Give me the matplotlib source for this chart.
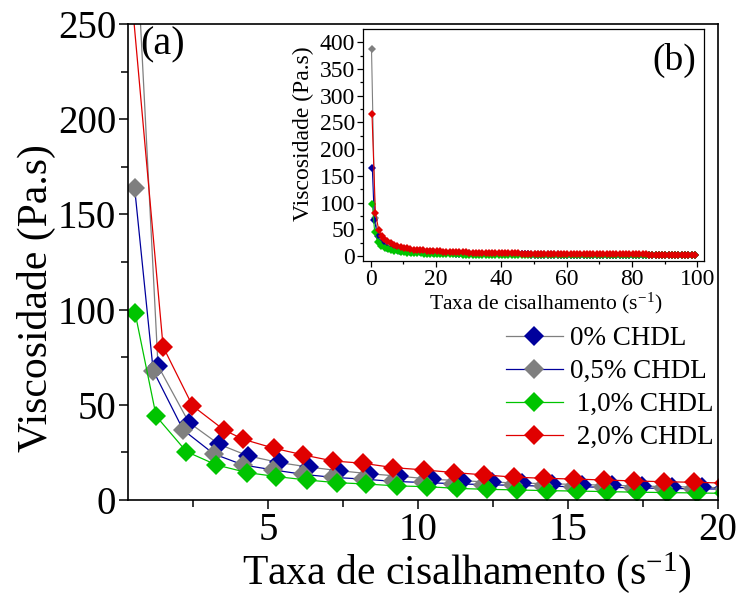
import matplotlib
matplotlib.use("Agg")
import matplotlib.pyplot as plt
from matplotlib.ticker import MultipleLocator
from matplotlib.lines import Line2D

plt.rcParams['font.family'] = ['Liberation Serif', 'DejaVu Serif']
plt.rcParams['mathtext.fontset'] = 'custom'
plt.rcParams['mathtext.rm'] = 'Liberation Serif'

# ---- data: shear rate (s^-1) and viscosity (Pa.s) ----
labels = ['0% CHDL', '0,5% CHDL', ' 1,0% CHDL', ' 2,0% CHDL']

rate_0 = [0.30, 1.33, 2.36, 3.36, 4.33, 5.35, 6.36, 7.36, 8.37, 9.38,
          10.45, 11.45, 12.45, 13.45, 14.45, 15.45, 16.45, 17.45, 18.45, 19.45]
visc_0 = [388, 70.5, 40.7, 29.3, 23.2, 19.7, 17.3, 15.4, 13.8, 12.5,
          10.9, 10.1, 9.4, 8.9, 8.5, 8.1, 7.7, 7.3, 7.0, 6.7]

rate_05 = [0.55, 1.17, 2.17, 3.19, 4.17, 5.17, 6.16, 7.16, 8.16, 9.16,
           10.15, 11.15, 12.15, 13.15, 14.15, 15.15, 16.15, 17.15, 18.15, 19.15]
visc_05 = [164, 68, 36.8, 24.2, 18.4, 15.8, 13.5, 11.9, 11.0, 9.8,
           9.2, 8.6, 8.1, 7.7, 7.3, 7.0, 6.7, 6.4, 6.1, 5.9]

rate_10 = [0.57, 1.27, 2.28, 3.28, 4.30, 5.28, 6.30, 7.29, 8.27, 9.29,
           10.30, 11.30, 12.30, 13.30, 14.30, 15.30, 16.30, 17.30, 18.30, 19.30]
visc_10 = [98, 44, 25.4, 18.4, 14.4, 12.3, 10.5, 9.1, 8.4, 7.4,
           7.0, 6.1, 5.6, 5.3, 4.9, 4.7, 4.4, 4.1, 3.9, 3.7]

rate_20 = [0.45, 1.50, 2.48, 3.53, 4.17, 5.19, 6.17, 7.16, 8.16, 9.18,
           10.20, 11.20, 12.20, 13.20, 14.20, 15.20, 16.20, 17.20, 18.20, 19.20]
visc_20 = [265, 80.5, 49.5, 36.8, 31.9, 27.2, 23.7, 20.5, 19.3, 17.0,
           15.8, 14.4, 13.2, 12.0, 11.4, 11.0, 10.5, 10.0, 9.6, 9.3]

# remainder of the sweep, up to 100 s^-1
rate_tail = [20.2, 21.2, 22.2, 23.2, 24.2, 25.2, 26.2, 27.2, 28.2, 29.2,
             30.2, 31.2, 32.2, 33.2, 34.2, 35.2, 36.2, 37.2, 38.2, 39.2,
             40.2, 41.2, 42.2, 43.2, 44.2, 45.2, 46.2, 47.2, 48.2, 49.2,
             50.2, 51.2, 52.2, 53.2, 54.2, 55.2, 56.2, 57.2, 58.2, 59.2,
             60.2, 61.2, 62.2, 63.2, 64.2, 65.2, 66.2, 67.2, 68.2, 69.2,
             70.2, 71.2, 72.2, 73.2, 74.2, 75.2, 76.2, 77.2, 78.2, 79.2,
             80.2, 81.2, 82.2, 83.2, 84.2, 85.2, 86.2, 87.2, 88.2, 89.2,
             90.2, 91.2, 92.2, 93.2, 94.2, 95.2, 96.2, 97.2, 98.2, 99.2]
tail_0 = [6.4, 6.2, 6.0, 5.8, 5.6, 5.4, 5.2, 5.1, 4.9, 4.8,
          4.7, 4.5, 4.4, 4.3, 4.2, 4.1, 4.0, 3.9, 3.8, 3.8,
          3.7, 3.6, 3.5, 3.5, 3.4, 3.3, 3.3, 3.2, 3.2, 3.1,
          3.1, 3.0, 3.0, 2.9, 2.9, 2.8, 2.8, 2.8, 2.7, 2.7,
          2.6, 2.6, 2.6, 2.5, 2.5, 2.5, 2.4, 2.4, 2.4, 2.3,
          2.3, 2.3, 2.3, 2.2, 2.2, 2.2, 2.2, 2.1, 2.1, 2.1,
          2.1, 2.0, 2.0, 2.0, 2.0, 1.9, 1.9, 1.9, 1.9, 1.9,
          1.8, 1.8, 1.8, 1.8, 1.8, 1.7, 1.7, 1.7, 1.7, 1.7]
tail_05 = [5.7, 5.5, 5.3, 5.1, 4.9, 4.8, 4.6, 4.5, 4.3, 4.2,
           4.1, 4.0, 3.9, 3.8, 3.7, 3.6, 3.5, 3.4, 3.4, 3.3,
           3.2, 3.2, 3.1, 3.0, 3.0, 2.9, 2.9, 2.8, 2.8, 2.7,
           2.7, 2.6, 2.6, 2.5, 2.5, 2.5, 2.4, 2.4, 2.3, 2.3,
           2.3, 2.2, 2.2, 2.2, 2.1, 2.1, 2.1, 2.0, 2.0, 2.0,
           2.0, 1.9, 1.9, 1.9, 1.9, 1.8, 1.8, 1.8, 1.8, 1.7,
           1.7, 1.7, 1.7, 1.7, 1.6, 1.6, 1.6, 1.6, 1.6, 1.5,
           1.5, 1.5, 1.5, 1.5, 1.5, 1.4, 1.4, 1.4, 1.4, 1.4]
tail_10 = [3.5, 3.4, 3.3, 3.2, 3.1, 3.0, 2.9, 2.8, 2.7, 2.6,
           2.6, 2.5, 2.4, 2.4, 2.3, 2.3, 2.2, 2.2, 2.1, 2.1,
           2.0, 2.0, 2.0, 1.9, 1.9, 1.8, 1.8, 1.8, 1.7, 1.7,
           1.7, 1.7, 1.6, 1.6, 1.6, 1.6, 1.5, 1.5, 1.5, 1.5,
           1.4, 1.4, 1.4, 1.4, 1.4, 1.3, 1.3, 1.3, 1.3, 1.3,
           1.3, 1.2, 1.2, 1.2, 1.2, 1.2, 1.2, 1.2, 1.1, 1.1,
           1.1, 1.1, 1.1, 1.1, 1.1, 1.0, 1.0, 1.0, 1.0, 1.0,
           1.0, 1.0, 1.0, 1.0, 0.9, 0.9, 0.9, 0.9, 0.9, 0.9]
tail_20 = [8.9, 8.6, 8.3, 8.0, 7.7, 7.5, 7.3, 7.0, 6.8, 6.6,
           6.5, 6.3, 6.2, 6.0, 5.9, 5.7, 5.6, 5.5, 5.4, 5.3,
           5.2, 5.1, 5.0, 4.9, 4.8, 4.7, 4.6, 4.6, 4.5, 4.4,
           4.3, 4.3, 4.2, 4.1, 4.1, 4.0, 3.9, 3.9, 3.8, 3.8,
           3.7, 3.7, 3.6, 3.6, 3.5, 3.5, 3.4, 3.4, 3.3, 3.3,
           3.3, 3.2, 3.2, 3.1, 3.1, 3.1, 3.0, 3.0, 3.0, 2.9,
           2.9, 2.9, 2.8, 2.8, 2.8, 2.7, 2.7, 2.7, 2.7, 2.6,
           2.6, 2.6, 2.5, 2.5, 2.5, 2.5, 2.4, 2.4, 2.4, 2.4]

BLUE = '#00009c'
GRAY = '#7f7f7f'
GREEN = '#00c400'
RED = '#e00000'

rates = [rate_0 + rate_tail, rate_05 + rate_tail, rate_10 + rate_tail, rate_20 + rate_tail]
viscs = [visc_0 + tail_0, visc_05 + tail_05, visc_10 + tail_10, visc_20 + tail_20]
# (line colour, marker colour) for the main panel
main_styles = [(GRAY, BLUE), (BLUE, GRAY), (GREEN, GREEN), (RED, RED)]
# (line colour, marker colour) for the inset
inset_styles = [(GRAY, GRAY), (BLUE, BLUE), (GREEN, GREEN), (RED, RED)]

W, H = 738, 596
fig = plt.figure(figsize=(W / 100, H / 100), dpi=100)

def fx(px):
    return px / W

def fy(py):
    return 1 - py / H

# ---- main panel (a) ----
ax = fig.add_axes([fx(128), fy(500), fx(718 - 128), (500 - 24) / H])
handles = []
for x, y, (lc, mc), lab in zip(rates, viscs, main_styles, labels):
    ax.plot(x, y, color=lc, lw=0.9, marker='D', ms=10, mfc=mc, mec=mc, mew=0)
    handles.append(Line2D([], [], color=lc, lw=0.9, marker='D', ms=10,
                          mfc=mc, mec=mc, mew=0, label=lab))

ax.set_xlim(0.33, 20)
ax.set_ylim(0, 250)
ax.xaxis.set_major_locator(MultipleLocator(5))
ax.xaxis.set_minor_locator(MultipleLocator(2.5))
ax.yaxis.set_major_locator(MultipleLocator(50))
ax.yaxis.set_minor_locator(MultipleLocator(25))
ax.tick_params(which='both', direction='out', top=False, right=False, width=1.1)
ax.tick_params(which='major', length=6.5, labelsize=28, pad=2)
ax.tick_params(which='minor', length=4.7)
for s in ax.spines.values():
    s.set_linewidth(1.2)
ax.set_xlabel('Taxa de cisalhamento (s$\\mathregular{^{-1}}$)', fontsize=30)
ax.set_ylabel('Viscosidade (Pa.s)', fontsize=30)
ax.xaxis.set_label_coords(0.575, -0.105)
ax.yaxis.set_label_coords(-0.122, 0.425)

fig.legend(handles=handles, loc='upper left', bbox_to_anchor=(fx(506), fy(326)),
           frameon=False, fontsize=19.5, handlelength=2.1, handletextpad=0.25,
           labelspacing=0.3, borderpad=0, borderaxespad=0)

fig.text(fx(140), fy(45), '(a)', fontsize=29, ha='left', va='center')

# ---- inset (b): full shear-rate sweep ----
ins = fig.add_axes([fx(363), fy(261), fx(704 - 363), (261 - 29) / H])
for x, y, (lc, mc) in zip(rates, viscs, inset_styles):
    ins.plot(x, y, color=lc, lw=0.8, marker='D', ms=4, mfc=mc, mec=mc, mew=0)
ins.set_xlim(-2.3, 102)
ins.set_ylim(-9.4, 424.7)
ins.xaxis.set_major_locator(MultipleLocator(20))
ins.xaxis.set_minor_locator(MultipleLocator(10))
ins.yaxis.set_major_locator(MultipleLocator(50))
ins.yaxis.set_minor_locator(MultipleLocator(25))
ins.tick_params(which='both', direction='out', top=False, right=False, width=0.9)
ins.tick_params(which='major', length=4, labelsize=17, pad=1.5)
ins.tick_params(which='minor', length=2.5)
for s in ins.spines.values():
    s.set_linewidth(0.9)
ins.set_xlabel('Taxa de cisalhamento (s$\\mathregular{^{-1}}$)', fontsize=15.5)
ins.set_ylabel('Viscosidade (Pa.s)', fontsize=17)
ins.xaxis.set_label_coords(0.535, -0.13)
ins.yaxis.set_label_coords(-0.145, 0.55)
fig.text(fx(652), fy(60), '(b)', fontsize=27, ha='left', va='center')

fig.savefig('out.png', dpi=100)
